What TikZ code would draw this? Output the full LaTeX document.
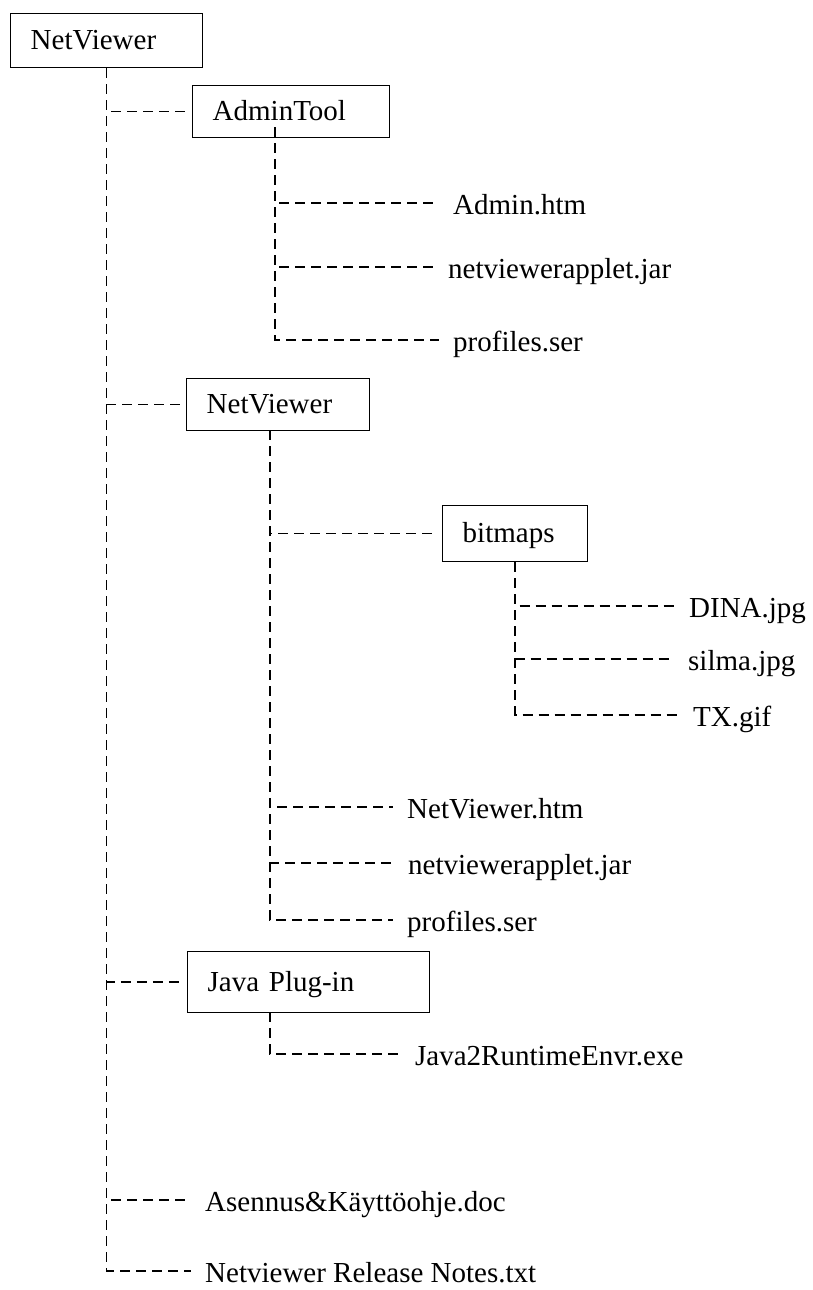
\documentclass[tikz,border=0pt]{standalone}
\usepackage{fontspec}
\setmainfont{Liberation Serif}
\usepackage{tikz}
\usetikzlibrary{positioning}

\begin{document}
\begin{tikzpicture}[
 x=1pt, y=-1pt,
 font=\fontsize{29}{34}\selectfont,
 folder/.style={draw, line width=1.4pt, anchor=north west, inner xsep=20pt,
   align=left, text height=23pt, text depth=4.6pt},
 file/.style={anchor=west, inner xsep=9pt, text height=26pt, text depth=3pt},
 branch/.style={line width=1.5pt, dash pattern=on 10pt off 6pt, shorten >=5pt}
]
 \useasboundingbox (0,0) rectangle (812,1290);

 % Folders, placed at their top left corners
 \node[folder, text width=152pt, minimum height=54pt] (root) at (10,13) {NetViewer};
 \node[folder, text width=157pt, minimum height=52pt] (admin) at (192,85) {AdminTool};
 \node[folder, text width=143pt, minimum height=52pt] (nv) at (186,378) {NetViewer};
 \node[folder, text width=105pt, minimum height=56pt] (bmp) at (442,505) {bitmaps};
 \node[folder, text width=202pt, minimum height=61pt] (java) at (187,951) {Java Plug-in};

 % Where the sub-trunks leave their folders
 \coordinate (adminT) at (275,127);
 \coordinate (nvT) at (270,430);
 \coordinate (javaT) at (270,1012);

 % Files in AdminTool
 \node[file] (adminhtm) at (444,203) {Admin.htm};
 \node[file] (adminjar) at (439,267) {netviewerapplet.jar};
 \node[file] (adminser) at (444,340) {profiles.ser};

 % Files in bitmaps
 \node[file] (dina) at (680,606) {DINA.jpg};
 \node[file] (silma) at (679,659) {silma.jpg};
 \node[file] (tx) at (684,715) {TX.gif};

 % Files in NetViewer
 \node[file] (nvhtm) at (398,807) {NetViewer.htm};
 \node[file] (nvjar) at (399,863) {netviewerapplet.jar};
 \node[file] (nvser) at (398,920) {profiles.ser};

 % File in Java Plug-in
 \node[file] (jre) at (406,1054) {Java2RuntimeEnvr.exe};

 % Files in the root folder
 \node[file] (guide) at (196,1200) {Asennus\&Käyttöohje.doc};
 \node[file] (notes) at (196,1271) {Netviewer Release Notes.txt};

 % Root trunk
 \draw[branch] (root.south) |- (admin.west);
 \draw[branch] (root.south) |- (nv.west);
 \draw[branch] (root.south) |- (java.west);
 \draw[branch] (root.south) |- (guide.west);
 \draw[branch] (root.south) |- (notes.west);

 % AdminTool trunk
 \draw[branch] (adminT) |- (adminhtm.west);
 \draw[branch] (adminT) |- (adminjar.west);
 \draw[branch] (adminT) |- (adminser.west);

 % NetViewer trunk
 \draw[branch] (nvT) |- (bmp.west);
 \draw[branch] (nvT) |- (nvhtm.west);
 \draw[branch] (nvT) |- (nvjar.west);
 \draw[branch] (nvT) |- (nvser.west);

 % bitmaps trunk
 \draw[branch] (bmp.south) |- (dina.west);
 \draw[branch] (bmp.south) |- (silma.west);
 \draw[branch] (bmp.south) |- (tx.west);

 % Java Plug-in trunk
 \draw[branch] (javaT) |- (jre.west);
\end{tikzpicture}
\end{document}
